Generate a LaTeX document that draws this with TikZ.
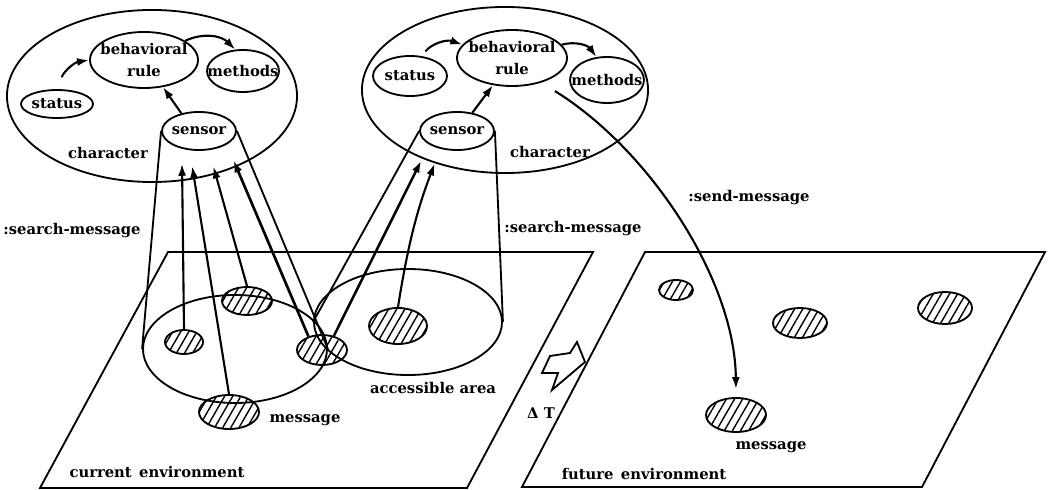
\documentclass[tikz,border=0pt]{standalone}
\usepackage{fontspec}
\setmainfont{DejaVu Serif}
\usetikzlibrary{shapes.geometric,patterns.meta,arrows.meta}

\begin{document}
\begin{tikzpicture}[x=0.025cm, y=-0.025cm, line width=1.3pt,
    font=\fontsize{10.5}{16}\selectfont\bfseries,
    part/.style={ellipse, draw, inner sep=0pt},
    msg/.style={ellipse, draw, inner sep=0pt,
        pattern={Lines[angle=60,distance=5pt,line width=1pt]}},
    get/.style={-{Latex[length=3mm,width=2mm]}, line width=1.5pt}]

    \useasboundingbox (0,0) rectangle (1050,490);

    % Define the two environments
    \draw (168,252) -- (593,252) -- (467,488) -- (40,488) -- cycle;
    \draw (645,252) -- (1045,252) -- (922,487) -- (522,487) -- cycle;
    \node (curenv) at (157,472) {current\enspace environment};
    \node (futenv) at (644,474) {future\enspace environment};

    % Left character with its parts
    \node[part, minimum width=7.25cm, minimum height=4.3cm] (charA) at (152,96) {};
    \node[part, minimum width=2.7cm, minimum height=1.4cm,
        label={[align=center]center:behavioral\\rule}] (ruleA) at (144,60) {};
    \node[part, minimum width=1.8cm, minimum height=1.05cm,
        label=center:methods] (methA) at (243,71) {};
    \node[part, minimum width=1.8cm, minimum height=0.7cm,
        label=center:status] (statA) at (57,104) {};
    \node[part, minimum width=1.85cm, minimum height=0.95cm,
        label=center:sensor] (sensA) at (199,131) {};
    \node (charAtxt) at (108,153) {character};

    % Right character with its parts
    \node[part, minimum width=7.15cm, minimum height=4.15cm] (charB) at (505,90) {};
    \node[part, minimum width=2.75cm, minimum height=1.4cm,
        label={[align=center]center:behavioral\\rule}] (ruleB) at (512,58) {};
    \node[part, minimum width=1.85cm, minimum height=1.15cm,
        label=center:methods] (methB) at (607,80) {};
    \node[part, minimum width=1.85cm, minimum height=1.0cm,
        label=center:status] (statB) at (410,76) {};
    \node[part, minimum width=1.85cm, minimum height=0.95cm,
        label=center:sensor] (sensB) at (457,131) {};
    \node (charBtxt) at (550,152) {character};

    % Arrows inside the characters
    \draw[get, shorten <=0.3cm] (statA.80) to[bend left=35] (ruleA.west);
    \draw[get] (ruleA.25) to[bend left=35] (methA.110);
    \draw[get] (sensA.135) -- (ruleA.-55);
    \draw[get, shorten <=0.15cm] (statB.60) to[bend left=35] (ruleB.165);
    \draw[get] (ruleB.15) to[bend left=35] (methB.115);
    \draw[get] (sensB.50) -- (ruleB.235);

    % Accessible areas and the cones of the sensors
    \node[part, minimum width=4.6cm, minimum height=2.7cm] (areaA) at (235,349) {};
    \node[part, minimum width=4.7cm, minimum height=2.65cm] (areaB) at (408,322) {};
    \draw (sensA.west) -- (areaA.west);
    \draw (sensA.east) -- (areaA.east);
    \draw (sensB.west) -- (areaB.west);
    \draw (sensB.east) -- (areaB.east);
    \node (areatxt) at (433,388) {accessible area};

    % Messages in the current environment
    \node[msg, minimum width=0.95cm, minimum height=0.6cm] (m1) at (184,342) {};
    \node[msg, minimum width=1.25cm, minimum height=0.7cm] (m2) at (247,301) {};
    \node[msg, minimum width=1.25cm, minimum height=0.75cm] (m3) at (322,350) {};
    \node[msg, minimum width=1.5cm, minimum height=0.85cm] (m4) at (229,412) {};
    \node[msg, minimum width=1.45cm, minimum height=0.9cm] (m5) at (398,326) {};
    \node (m4txt) at (305,420) {message};

    % Messages found by the sensors
    \draw[get, shorten >=0.375cm] (m1.north) -- (sensA.226);
    \draw[get, shorten >=0.4cm] (m4.north) -- (sensA.244);
    \draw[get, shorten >=0.42cm] (m2.north) -- (sensA.297);
    \draw[get, line width=1.9pt, shorten >=0.43cm] (m3.135) -- (sensA.334);
    \draw[get, line width=1.8pt, shorten >=0.45cm] (m3.50) -- (sensB.206);
    \draw[get, shorten >=0.39cm] (m5.north) to[bend left=6] (sensB.227);
    \node (searchA) at (72,231) {:search-message};
    \node (searchB) at (573,229) {:search-message};

    % Time step
    \draw (542,373) -- (550,356) -- (570,353) -- (577,342) -- (585,362)
        -- (552,390) -- (558,373) -- cycle;
    \node (dt) at (541,413) {Δ T};

    % Messages in the future environment
    \node[msg, minimum width=0.85cm, minimum height=0.5cm] (f1) at (676,290) {};
    \node[msg, minimum width=1.35cm, minimum height=0.75cm] (f2) at (800,323) {};
    \node[msg, minimum width=1.35cm, minimum height=0.8cm] (f3) at (945,308) {};
    \node[msg, minimum width=1.5cm, minimum height=0.85cm] (f4) at (736,415) {};
    \node (f4txt) at (771,447) {message};

    % Sending a new message
    \draw[get, shorten <=0.4cm, shorten >=0.2cm] (ruleB.-40)
        .. controls (650,150) and (735,280) .. (f4.north);
    \node (sendtxt) at (749,198) {:send-message};
\end{tikzpicture}
\end{document}
